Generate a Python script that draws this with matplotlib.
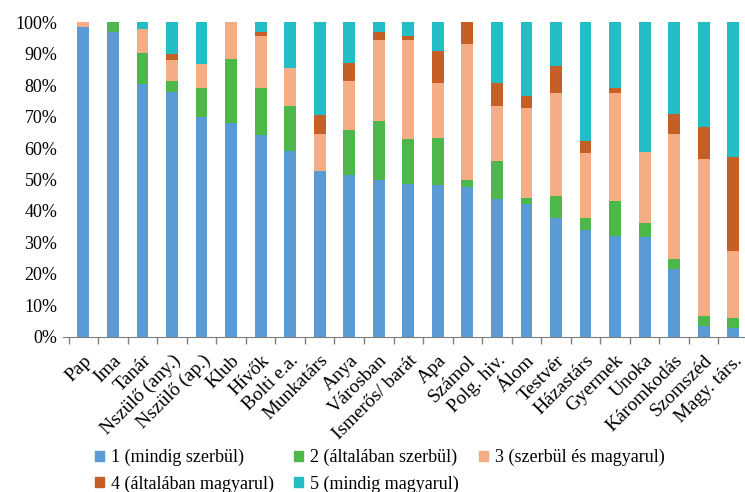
import matplotlib
matplotlib.use("Agg")
import matplotlib.pyplot as plt
from matplotlib.patches import Patch
import numpy as np

plt.rcParams['font.family'] = ['Liberation Serif', 'DejaVu Serif']

# nyelvhasználati helyzetek
categories = ["Pap", "Ima", "Tanár", "Nszülő (any.)", "Nszülő (ap.)", "Klub",
              "Hívők", "Bolti e.a.", "Munkatárs", "Anya", "Városban",
              "Ismerős/ barát", "Apa", "Számol", "Polg. hiv.", "Álom", "Testvér",
              "Házastárs", "Gyermek", "Unoka", "Káromkodás", "Szomszéd",
              "Magy. társ."]

# megoszlás (%) az öt válaszkategória szerint
s1 = [98.4, 96.8, 80.3, 77.9, 69.8, 68.1, 64.2, 59.1, 52.8, 51.3, 49.7,
      48.5, 48.3, 47.5, 43.8, 42.1, 37.8, 33.9, 32.0, 31.7, 21.4, 3.4, 2.9]
s2 = [0.0, 3.2, 9.8, 3.4, 9.4, 20.1, 14.9, 14.3, 0.0, 14.3, 18.8,
      14.4, 14.8, 2.3, 12.0, 1.9, 6.8, 3.7, 11.3, 4.6, 3.3, 3.3, 2.9]
s3 = [1.6, 0.0, 7.8, 6.8, 7.4, 11.8, 16.4, 12.2, 11.8, 15.7, 25.8,
      31.4, 17.7, 43.4, 17.6, 28.9, 32.9, 20.9, 34.1, 22.4, 39.9, 49.9, 21.6]
s4 = [0.0, 0.0, 0.0, 1.8, 0.0, 0.0, 1.5, 0.0, 5.9, 5.8, 2.7,
      1.5, 10.2, 6.8, 7.4, 3.8, 8.6, 3.7, 1.7, 0.0, 6.2, 10.1, 29.8]
s5 = [0.0, 0.0, 2.1, 10.1, 13.4, 0.0, 3.0, 14.4, 29.5, 12.9, 3.0,
      4.2, 9.0, 0.0, 19.2, 23.3, 13.9, 37.8, 20.9, 41.3, 29.2, 33.3, 42.8]

labels = ["1 (mindig szerbül)", "2 (általában szerbül)", "3 (szerbül és magyarul)",
          "4 (általában magyarul)", "5 (mindig magyarul)"]
colors = ["#5B9BD5", "#4EB749", "#F4AD84", "#C55F26", "#23BDC6"]

fig = plt.figure(figsize=(7.45, 4.92), dpi=100)
ax = fig.add_axes([63 / 745, 155.3 / 492, 685 / 745, 314.4 / 492])

x = np.arange(len(categories))
bottom = np.zeros(len(categories))
for vals, c in zip([s1, s2, s3, s4, s5], colors):
    ax.bar(x, vals, width=0.4, bottom=bottom, color=c)
    bottom += np.array(vals)

ax.set_xlim(-0.69, len(categories) - 0.5)
ax.set_ylim(0, 100)
ax.set_yticks(np.arange(0, 101, 10))
ax.set_yticklabels([f"{v}%" for v in range(0, 101, 10)], fontsize=13)
ax.tick_params(axis='y', length=0, pad=4)

ax.set_xticks(x)
ax.set_xticklabels(categories, fontsize=14, rotation=45, ha='right',
                   rotation_mode='anchor')
ax.set_xticks(np.arange(len(categories) + 1) - 0.5, minor=True)
ax.tick_params(axis='x', which='major', length=0, pad=11)
ax.tick_params(axis='x', which='minor', length=5, color='#7f7f7f', width=1)

for side in ['top', 'right', 'left']:
    ax.spines[side].set_visible(False)
ax.spines['bottom'].set_color('#7f7f7f')

# legend: 1, 2, 3 in the first row, 4, 5 in the second
handles = [Patch(color=c) for c in colors]
order = [0, 3, 1, 4, 2]
fig.legend([handles[i] for i in order], [labels[i] for i in order],
           ncol=3, loc='upper left', bbox_to_anchor=(95 / 745, 1 - 449 / 492),
           frameon=False, fontsize=13, handlelength=0.5, handleheight=0.5,
           handletextpad=0.4, columnspacing=1.1, labelspacing=0.5,
           borderpad=0, borderaxespad=0)

fig.savefig("out.png", dpi=100)
